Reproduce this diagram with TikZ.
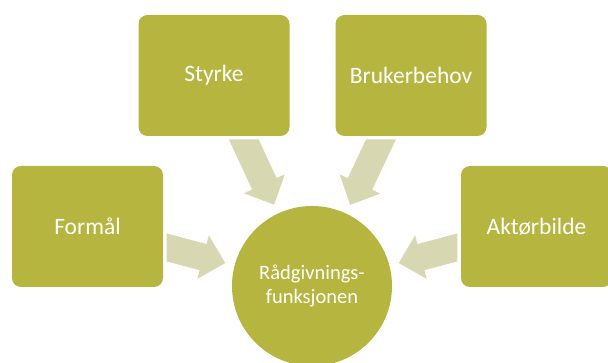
\documentclass[tikz,border=0pt]{standalone}
\usepackage{fontspec}
\setmainfont{Carlito}
\usetikzlibrary{calc}

\definecolor{olive}{RGB}{182,181,63}
\definecolor{paleolive}{RGB}{215,215,177}

\tikzset{
  box/.style={rectangle, rounded corners=9pt, fill=olive, text=white,
    minimum width=151pt, minimum height=121pt, inner sep=0pt,
    font=\fontsize{23.5}{28}\selectfont},
  hub/.style={circle, fill=olive, text=white, minimum size=160pt, inner sep=0pt,
    align=center, font=\fontsize{20.5}{24}\selectfont},
  arrowfill/.style={fill=paleolive}
}

% Wide block arrow between the borders of two named nodes;
% #3 gives the direction of the tail cut (parallel to the source edge)
\newcommand\blockarrow[3]{%
  \path (#1) -- (#2) coordinate[pos=0] (ba-s) coordinate[pos=1] (ba-e);
  \coordinate (ba-t) at ($(ba-s)!3.5pt!(ba-e)$);
  \coordinate (ba-td) at ($(ba-t)+(#3)$);
  \coordinate (ba-p) at ($(ba-e)!9.5pt!(ba-s)$);
  \coordinate (ba-n) at ($(ba-p)!23pt!(ba-s)$);
  \coordinate (ba-n1) at ($(ba-n)!13.5pt!90:(ba-e)$);
  \coordinate (ba-n2) at ($(ba-n)!13.5pt!-90:(ba-e)$);
  \coordinate (ba-m1) at ($(ba-t)!13.5pt!90:(ba-e)$);
  \coordinate (ba-m2) at ($(ba-t)!13.5pt!-90:(ba-e)$);
  \fill[arrowfill]
    (intersection of ba-n1--ba-m1 and ba-t--ba-td) -- (ba-n1) --
    ($(ba-n)!22.5pt!90:(ba-e)$) -- (ba-p) --
    ($(ba-n)!22.5pt!-90:(ba-e)$) -- (ba-n2) --
    (intersection of ba-n2--ba-m2 and ba-t--ba-td) -- cycle;
}

\begin{document}
\begin{tikzpicture}[x=1pt, y=-1pt]
  \useasboundingbox (0,0) rectangle (608,363);
  \clip (0,0) rectangle (608,363);

  \node[hub] (hub) at (312,286) {Rådgivnings-\\funksjonen};
  \node[box] (formal) at (87.5,226.5) {Formål};
  \node[box] (styrke) at (214,75.5) {Styrke};
  \node[box] (bruker) at (411,75.5) {Brukerbehov};
  \node[box] (aktor) at (536.5,226.5) {Aktørbilde};

  \blockarrow{formal}{hub}{0,10}
  \blockarrow{styrke}{hub}{10,0}
  \blockarrow{bruker}{hub}{10,0}
  \blockarrow{aktor}{hub}{0,10}
\end{tikzpicture}
\end{document}
